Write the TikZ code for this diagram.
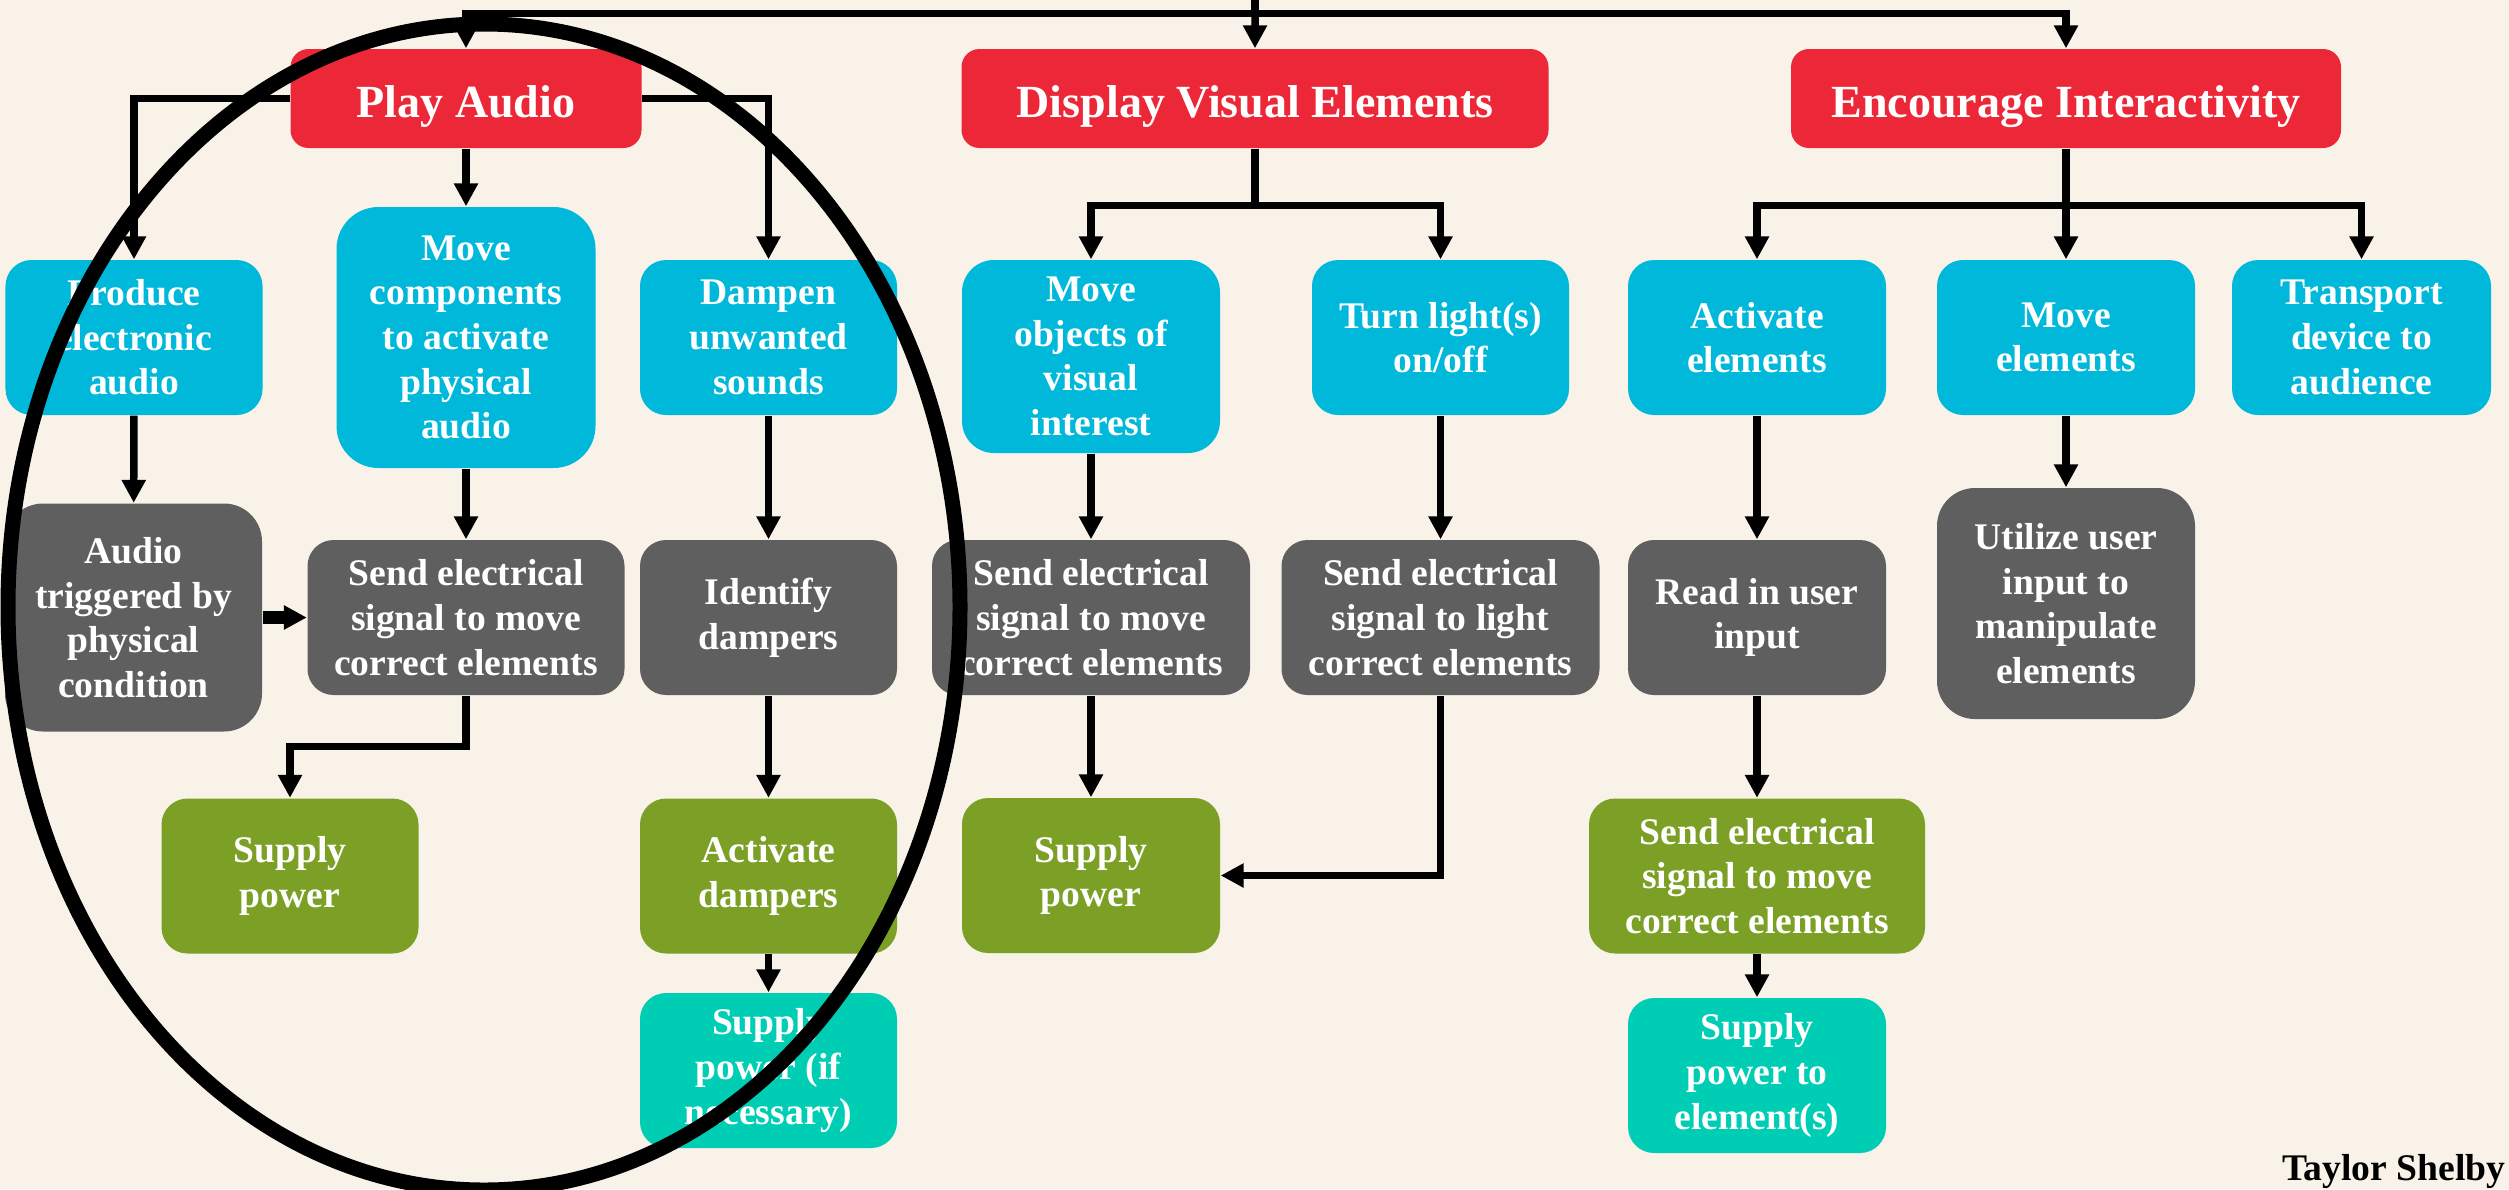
\documentclass[tikz,border=0pt]{standalone}
\usepackage{fontspec}
\setmainfont{Liberation Serif}
\usetikzlibrary{arrows.meta,positioning}

\definecolor{bgcol}{RGB}{249,242,233}
\definecolor{goalred}{RGB}{236,40,56}
\definecolor{taskcyan}{RGB}{0,185,218}
\definecolor{procgray}{RGB}{95,95,95}
\definecolor{actolive}{RGB}{124,160,38}
\definecolor{powerteal}{RGB}{0,206,180}

\tikzset{
    box/.style={rectangle, rounded corners=0.26cm, text=white, align=center, inner sep=0pt,
        minimum width=2.57cm, minimum height=1.55cm,
        font=\fontsize{10.7}{12.7}\selectfont\bfseries},
    goal/.style={box, fill=goalred, minimum height=0.99cm, rounded corners=0.18cm,
        text height=0.40cm, text depth=0.02cm,
        font=\fontsize{13.1}{15}\selectfont\bfseries},
    task/.style={box, fill=taskcyan},
    proc/.style={box, fill=procgray},
    act/.style={box, fill=actolive},
    power/.style={box, fill=powerteal},
    wire/.style={line width=0.075cm},
    arr/.style={wire, -{Triangle[length=0.23cm,width=0.23cm]}},
}

\begin{document}
\begin{tikzpicture}
                [node distance=2.39cm]
                \useasboundingbox (0,0) rectangle (25.09,-11.89);
                \clip (0,0) rectangle (25.09,-11.89);
                \fill[bgcol] (0,0) rectangle (25.09,-11.89);

                % goals
                \node[goal, minimum width=3.51cm] (pa) at (4.66,-0.985) {Play Audio};
                \node[goal, minimum width=5.87cm, node distance=7.89cm] (dv) [right of=pa] {Display Visual Elements};
                \node[goal, minimum width=5.50cm, node distance=8.11cm] (ei) [right of=dv] {Encourage Interactivity};

                % play audio
                \node[task, minimum width=2.59cm, minimum height=2.61cm, rounded corners=0.42cm] (movecomp) [below of=pa] {Move\\components\\to activate\\physical\\audio};
                \node[task, node distance=3.32cm] (produce) [left of=movecomp] {Produce\\electronic\\audio};
                \node[task, node distance=3.025cm] (dampen) [right of=movecomp] {Dampen\\unwanted\\sounds};
                \node[proc, minimum width=3.17cm, node distance=2.8cm] (sendpa) [below of=movecomp] {Send electrical\\signal to move\\correct elements};
                \node[proc, minimum height=2.28cm, rounded corners=0.38cm, node distance=3.325cm] (trig) [left of=sendpa] {Audio\\triggered by\\physical\\condition};
                \node[proc, node distance=3.025cm] (identify) [right of=sendpa] {Identify\\dampers};
                \node[act, node distance=2.585cm, xshift=-1.76cm] (supplypa) [below of=sendpa] {Supply\\power};
                \node[act, node distance=2.585cm] (actdamp) [below of=identify] {Activate\\dampers};
                \node[power, node distance=1.945cm] (supplyif) [below of=actdamp] {Supply\\power (if\\necessary)};

                % display visual elements
                \node[task, minimum width=2.58cm, minimum height=1.93cm, rounded corners=0.32cm, node distance=2.58cm, xshift=-1.64cm] (moveobj) [below of=dv] {Move\\objects of\\visual\\interest};
                \node[task, xshift=1.855cm] (turnlight) [below of=dv] {Turn light(s)\\on/off};
                \node[proc, minimum width=3.18cm, node distance=2.8cm] (sendlight) [below of=turnlight] {Send electrical\\signal to light\\correct elements};
                \node[proc, minimum width=3.18cm, node distance=3.495cm] (senddv) [left of=sendlight] {Send electrical\\signal to move\\correct elements};
                \node[act, minimum width=2.58cm, node distance=2.58cm] (supplydv) [below of=senddv] {Supply\\power};

                % encourage interactivity
                \node[task, minimum width=2.58cm] (moveel) [below of=ei] {Move\\elements};
                \node[task, minimum width=2.58cm, node distance=3.09cm] (actel) [left of=moveel] {Activate\\elements};
                \node[task, minimum width=2.59cm, node distance=2.955cm] (transport) [right of=moveel] {Transport\\device to\\audience};
                \node[proc, minimum width=2.58cm, node distance=2.8cm] (readin) [below of=actel] {Read in user\\input};
                \node[proc, minimum width=2.58cm, minimum height=2.31cm, rounded corners=0.38cm, node distance=2.66cm] (utilize) [below of=moveel] {Utilize user\\input to\\manipulate\\elements};
                \node[act, minimum width=3.36cm, node distance=2.585cm] (sendei) [below of=readin] {Send electrical\\signal to move\\correct elements};
                \node[power, minimum width=2.58cm, node distance=1.995cm] (supplyto) [below of=sendei] {Supply\\power to\\element(s)};

                \node[anchor=base east, inner sep=0pt, font=\fontsize{10.7}{12.7}\selectfont\bfseries] (author) at (25.06,-11.8) {Taylor Shelby};

                % top line
                \coordinate (top) at (12.55,0.1);
                \coordinate (bus) at (12.55,-0.135);
                \draw[wire] (top) -- (bus);
                \draw[arr] (bus) -| (pa.north);
                \draw[arr] (bus) -- (dv.north);
                \draw[arr] (bus) -| (ei.north);

                % branches
                \draw[arr] (pa.west) -| (produce.north);
                \draw[arr] (pa.east) -| (dampen.north);
                \foreach \n in {moveobj,turnlight}
                {
                    \draw[arr] (dv.south) -- ++(0,-0.57) -| (\n.north);
                }
                \foreach \n in {actel,transport}
                {
                    \draw[arr] (ei.south) -- ++(0,-0.57) -| (\n.north);
                }
                \foreach \a/\b in {pa/movecomp,produce/trig,movecomp/sendpa,dampen/identify,identify/actdamp,actdamp/supplyif,moveobj/senddv,senddv/supplydv,turnlight/sendlight,ei/moveel,moveel/utilize,actel/readin,readin/sendei,sendei/supplyto}
                {
                    \draw[arr] (\a) -- (\b);
                }
                \draw[arr, line width=0.13cm] (trig) -- (sendpa);
                \draw[arr] (sendpa.south) -- ++(0,-0.51) -| (supplypa.north);
                \draw[arr] (sendlight.south) |- (supplydv.east);

                % play audio group
                \draw[line width=0.15cm] (4.84,-6.07) ellipse [x radius=4.76cm, y radius=5.83cm];
            \end{tikzpicture}
\end{document}
